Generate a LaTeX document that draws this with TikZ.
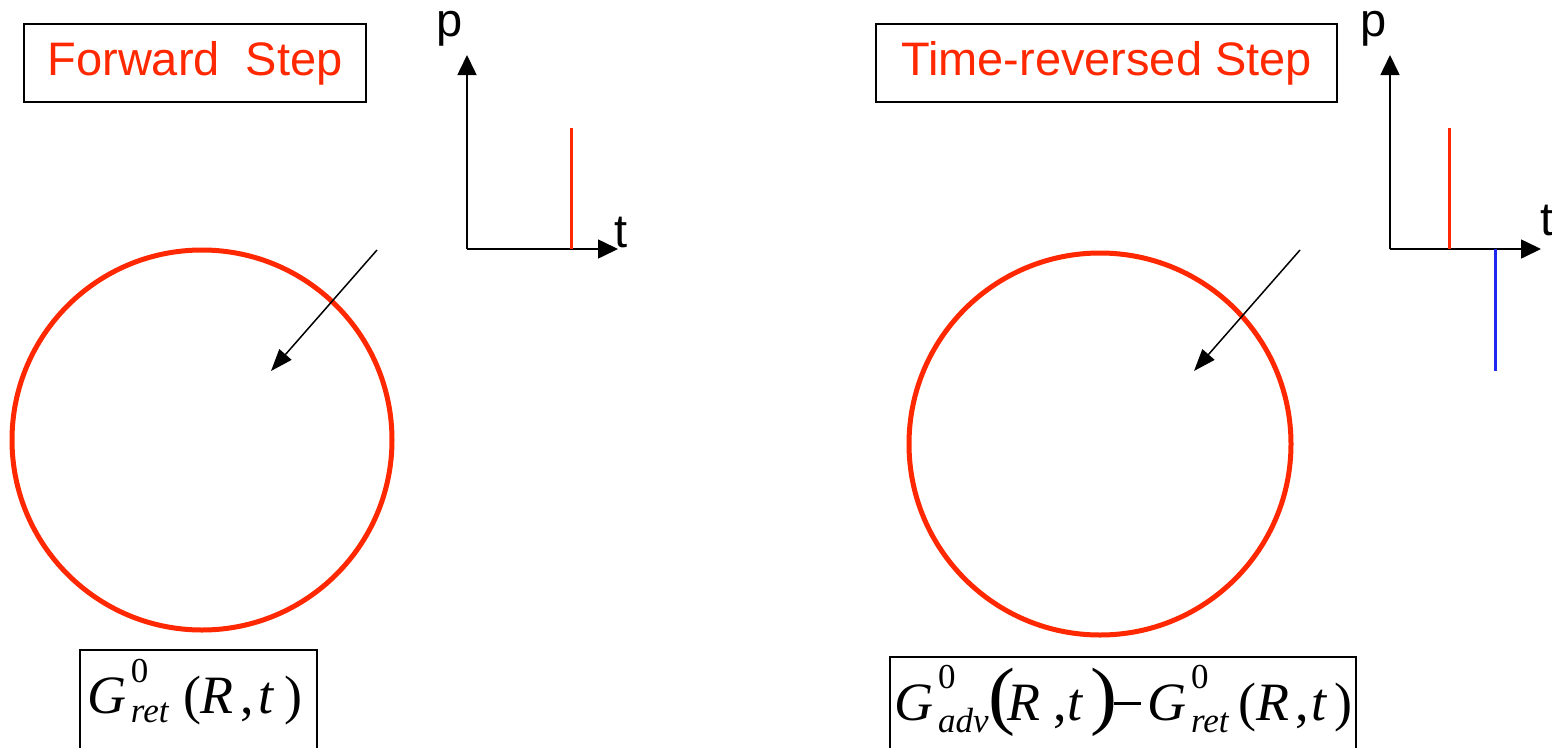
\documentclass[tikz,border=0pt]{standalone}
\usepackage{fontspec}
\setmainfont{Liberation Sans}
\newfontfamily\tms{Liberation Serif}
\usetikzlibrary{arrows.meta}
\definecolor{myred}{RGB}{255,40,0}
\definecolor{myblue}{RGB}{30,40,240}
\tikzset{
  titlebox/.style={draw=black, line width=1.5pt, text=myred, font=\fontsize{47}{50}\selectfont, minimum height=78pt, inner sep=0pt, outer sep=0pt},
  axis/.style={line width=1.6pt, -{Triangle[length=20pt,width=19pt]}},
  ring/.style={draw=myred, line width=5pt, circle, inner sep=0pt},
  pointer/.style={line width=1.5pt, -{Triangle[length=22pt,width=16pt]}},
  stick/.style={line width=3pt},
  axlabel/.style={font=\fontsize{47}{50}\selectfont, inner sep=0pt, anchor=base},
  formbox/.style={draw=black, line width=1.5pt, anchor=north west, inner ysep=0pt, outer sep=0pt, align=left, text depth=100pt, font=\tms\fontsize{54}{60}\selectfont}
}
\newcommand{\scr}{\fontsize{35}{35}\selectfont}
\newcommand{\gsym}[3]{\textit{G}\hspace{5pt}\rlap{\raisebox{#2}{\scr 0}}\raisebox{#3}{\scr\textit{#1}}}
\newcommand{\bigparen}[1]{\scalebox{1.5}[1.4]{#1}}
\begin{document}
\begin{tikzpicture}[x=1pt,y=-1pt]
\clip (0,0) rectangle (1552,747);
% ---------- left panel ----------
\node[titlebox, minimum width=342pt] (ftitle) at (195,63) {Forward\hspace{0.55em}Step};
\coordinate (o1) at (467,249);
\coordinate (p1) at (467,55);
\coordinate (t1) at (618,249);
\draw[axis] (o1) -- (p1);
\draw[axis] (o1) -- (t1);
\node[axlabel] (plab1) at (450,36) {p};
\node[axlabel] (tlab1) at (621,247) {t};
\coordinate (s1a) at (571,249);
\coordinate (s1b) at (571,128);
\draw[stick, myred] (s1a) -- (s1b);
\node[ring, minimum size=380pt] (c1) at (202,440) {};
\coordinate (a1s) at (377,250);
\coordinate (a1e) at (271,371);
\draw[pointer] (a1s) -- (a1e);
\node[formbox, inner xsep=7pt, text width=223pt, text height=63pt] (f1) at (80,650)
  {\mbox{\gsym{ret}{31pt}{-9pt}\hspace{14pt}(\hspace{-1pt}\textit{R}\hspace{7pt},\hspace{4.5pt}\textit{t}\hspace{10pt})}};
% ---------- right panel ----------
\node[titlebox, minimum width=461pt] (rtitle) at (1106.5,63) {Time-reversed Step};
\coordinate (o2) at (1390,249);
\coordinate (p2) at (1390,55);
\coordinate (t2) at (1541,249);
\draw[axis] (o2) -- (p2);
\draw[axis] (o2) -- (t2);
\node[axlabel] (plab2) at (1374,36) {p};
\node[axlabel] (tlab2) at (1547,235) {t};
\coordinate (s2a) at (1449,249);
\coordinate (s2b) at (1449,128);
\draw[stick, myred] (s2a) -- (s2b);
\coordinate (s3a) at (1495,249);
\coordinate (s3b) at (1495,371);
\draw[stick, myblue] (s3a) -- (s3b);
\node[ring, minimum size=382pt] (c2) at (1100,444) {};
\coordinate (a2s) at (1300,250);
\coordinate (a2e) at (1194,371);
\draw[pointer] (a2s) -- (a2e);
\node[formbox, inner xsep=4pt, text width=458pt, text height=63pt] (f2) at (890,657)
  {\mbox{\gsym{adv}{32pt}{-12pt}\hspace{0pt}\bigparen{(}\hspace{-8pt}\textit{R}\hspace{13pt},\hspace{0pt}\textit{t}\hspace{7pt}\bigparen{)}\hspace{-3pt}\rule[15pt]{27pt}{3.5pt}\hspace{6pt}\gsym{ret}{32pt}{-12pt}\hspace{9pt}(\textit{R}\hspace{6pt},\hspace{3pt}\textit{t}\hspace{7pt})}};
\end{tikzpicture}
\end{document}
